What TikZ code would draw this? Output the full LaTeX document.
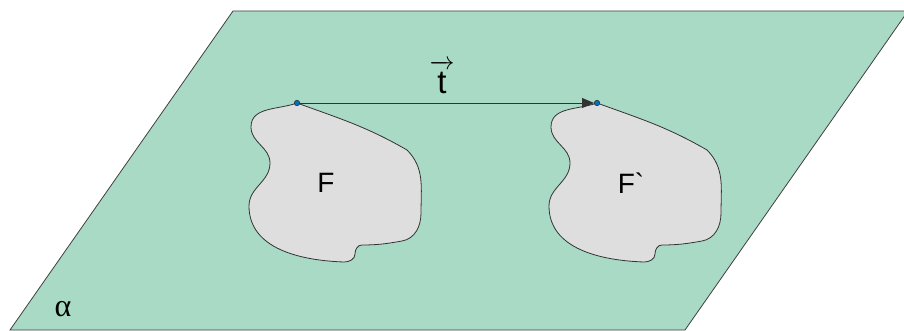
\documentclass[tikz,border=0pt]{standalone}
\usepackage{fontspec}
\setmainfont{Liberation Sans}
\newfontfamily\greekfont{Liberation Serif}
\usepackage{tikz}
\usetikzlibrary{calc,arrows.meta}
\definecolor{planegreen}{RGB}{168,218,197}
\definecolor{blobgray}{RGB}{222,222,222}
\definecolor{dotblue}{RGB}{0,114,198}
\def\drawblob{\draw[color=black!80, fill=blobgray, line width=0.8pt]}
\def\dotnode{\node[circle,draw=black!85,fill=dotblue,inner sep=0pt,minimum size=5.5pt,line width=0.5pt]}

\begin{document}
\begin{tikzpicture}[x=1pt,y=1pt,inner sep=0pt]
\useasboundingbox (0,0) rectangle (904,330);

% -------- the plane ---------
\coordinate (pbl) at (10,0);
\coordinate (pbr) at (685,0);
\coordinate (ptr) at (908,319);
\coordinate (ptl) at (233,319);
\draw[fill=planegreen, draw=black!75, line width=0.8pt] (pbl) -- (pbr) -- (ptr) -- (ptl) -- cycle;
\node[font=\greekfont\fontsize{32}{34}\selectfont] (alpha) at (63,21) {α};

% -------- figure F ---------
% every point is relative to the top corner (o)
\coordinate (o) at (297,227);
\drawblob (o) to[out=-20,in=150] ($ (o) + (110,-47) $) % right shoulder
  to[out=-45,in=90] ($ (o) + (124,-110) $)
  to[out=-90,in=10] ($ (o) + (105,-138) $)
  to[out=190,in=0] ($ (o) + (65,-142) $) % the notch
  to[out=180,in=90] ($ (o) + (58,-151) $)
  to[out=-90,in=0] ($ (o) + (47,-159) $)
  to[out=178,in=-90] ($ (o) + (-48,-103) $) % lower lobe
  to[out=90,in=-90] ($ (o) + (-27,-60) $) % waist
  to[out=90,in=-90] ($ (o) + (-46,-24) $) % upper lobe
  to[out=90,in=200] (o) -- cycle;
\dotnode (dotF) at (o) {};
\node[font=\fontsize{28}{30}\selectfont] (labF) at ($ (o) + (29,-80) $) {F};
% ------ end figure F ------

% -------- figure F` (F moved by t) ---------
\coordinate (o) at (597,227);
\drawblob (o) to[out=-20,in=150] ($ (o) + (110,-47) $) % right shoulder
  to[out=-45,in=90] ($ (o) + (124,-110) $)
  to[out=-90,in=10] ($ (o) + (105,-138) $)
  to[out=190,in=0] ($ (o) + (65,-142) $) % the notch
  to[out=180,in=90] ($ (o) + (58,-151) $)
  to[out=-90,in=0] ($ (o) + (47,-159) $)
  to[out=178,in=-90] ($ (o) + (-48,-103) $) % lower lobe
  to[out=90,in=-90] ($ (o) + (-27,-60) $) % waist
  to[out=90,in=-90] ($ (o) + (-46,-24) $) % upper lobe
  to[out=90,in=200] (o) -- cycle;
\dotnode (dotG) at (o) {};
\node[font=\fontsize{28}{30}\selectfont] (labG) at ($ (o) + (34,-80) $) {F\textasciigrave};
% ------ end figure F` ------

% the translation vector
\draw[color=black!80, line width=0.8pt, -{Triangle[length=12pt,width=10pt]}] (dotF) -- (dotG);
\node[font=\fontsize{33}{36}\selectfont] (labt) at (442,253) {$\overrightarrow{\rule{0pt}{0.78em}\mbox{t}}$};
\end{tikzpicture}
\end{document}
